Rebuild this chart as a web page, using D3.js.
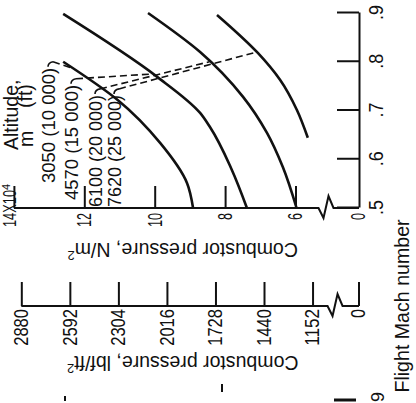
<!DOCTYPE html>
<html>
<head>
<meta charset="utf-8">
<script src="https://cdn.jsdelivr.net/npm/d3@7"></script>
<style>
  html, body { margin: 0; padding: 0; background: #fff; }
  svg { display: block; }
  text { font-family: "Liberation Sans", Arial, sans-serif; fill: #111; }
</style>
</head>
<body>
<svg id="chart" width="416" height="403"></svg>
<script>
// ---- data -------------------------------------------------------------
const machTicks = [0.5, 0.6, 0.7, 0.8, 0.9];
const pressureTicks = [6, 8, 10, 12, 14];            // N/m^2, x10^4
const lbfTicks = [1152, 1440, 1728, 2016, 2304, 2592, 2880];
const altitudeLabels = ["3050 (10 000)", "4570 (15 000)", "6100 (20 000)", "7620 (25 000)"];

// combustor pressure (x10^4 N/m^2) against flight Mach number, one pair per altitude
const mach3050 = [0.500, 0.551, 0.633, 0.722, 0.800];
const pres3050 = [8.91, 9.08, 9.84, 11.06, 12.60];
const mach4570 = [0.500, 0.580, 0.666, 0.695, 0.769, 0.898];
const pres4570 = [7.38, 7.82, 8.43, 8.71, 9.93, 12.60];
const mach6100 = [0.500, 0.584, 0.654, 0.728, 0.820, 0.900];
const pres6100 = [5.97, 6.36, 6.81, 7.49, 8.71, 10.19];
const mach7620 = [0.644, 0.701, 0.763, 0.818, 0.896];
const pres7620 = [5.65, 5.96, 6.44, 7.07, 8.23];

// Mach number where each altitude's leader line meets its curve
const leaderMach = [0.787, 0.775, 0.80, 0.82];

// ---- layout -----------------------------------------------------------
const svg = d3.select("#chart");
// the whole figure is drawn turned a quarter turn: local x runs up the page, local y runs right
const frame = svg.append("g").attr("transform", "rotate(-90)");

const mach = d3.scaleLinear().domain([0.5, 0.9]).range([-208, -13]);
const pres = d3.scaleLinear().domain([6, 14]).range([295.5, 13.9]);
const lbfPerUnit = 1e4 / 47.8803;                    // lbf/ft^2 in 1x10^4 N/m^2
const presLbf = d3.scaleLinear().domain(pres.domain().map(p => p * lbfPerUnit)).range(pres.range());
const zeroPos = 359;                                 // zero of both broken pressure scales
const lbfAxisPos = -306;

const ink = "#111";
function squeeze(sel, perChar) {
  sel.selectAll(".tick text")
    .attr("textLength", function () { return this.textContent.length * perChar; })
    .attr("lengthAdjust", "spacingAndGlyphs");
}
function styleAxis(g) {
  g.selectAll("line, path").attr("stroke", ink).attr("stroke-width", 2);
  g.selectAll("text").attr("font-size", 20).attr("fill", ink)
    .attr("font-family", "'Liberation Sans', Arial, sans-serif");
}
// broken axis line with a zigzag just before zero
function brokenAxis(parent, at, from, breakStart) {
  const p = d3.path();
  p.moveTo(at, from);
  p.lineTo(at, breakStart);
  p.lineTo(at - 10, breakStart + 5);
  p.lineTo(at + 12, breakStart + 10);
  p.lineTo(at, breakStart + 15);
  p.lineTo(at, zeroPos);
  parent.append("path").attr("d", p.toString())
    .attr("fill", "none").attr("stroke", ink).attr("stroke-width", 2).attr("stroke-linejoin", "miter");
}

// Mach number axis
const machAxis = frame.append("g")
  .attr("transform", `translate(0,${zeroPos})`)
  .call(d3.axisBottom(mach).tickValues(machTicks).tickSize(-22).tickSizeOuter(0).tickPadding(10)
    .tickFormat(d => d3.format(".1f")(d).replace("0.", ".")));
styleAxis(machAxis);
squeeze(machAxis, 7.5);

// N/m^2 axis
const presAxis = frame.append("g")
  .attr("transform", `translate(${mach(0.5)},0)`)
  .call(d3.axisLeft(pres).tickValues(pressureTicks).tickSize(-22).tickPadding(5)
    .tickFormat(d => d === 14 ? "" : d));
presAxis.select(".domain").remove();
styleAxis(presAxis);
squeeze(presAxis, 7);
brokenAxis(frame, mach(0.5), pres(14), pres(6) + 23);
frame.append("text").attr("x", mach(0.5) - 5).attr("y", zeroPos).attr("dy", "0.32em")
  .attr("text-anchor", "end").attr("font-size", 20).attr("textLength", 7)
  .attr("lengthAdjust", "spacingAndGlyphs").text("0");
const topLabel = frame.append("text").attr("x", mach(0.5) - 19).attr("y", pres(14) + 2.5)
  .attr("font-size", 19);
topLabel.append("tspan").attr("textLength", 37).attr("lengthAdjust", "spacingAndGlyphs").text("14X10");
topLabel.append("tspan").attr("dy", -6).attr("font-size", 11).text("4");

// lbf/ft^2 axis
const lbfAxis = frame.append("g")
  .attr("transform", `translate(${lbfAxisPos},0)`)
  .call(d3.axisLeft(presLbf).tickValues(lbfTicks).tickSize(-24).tickPadding(3)
    .tickFormat(d3.format("d")));
lbfAxis.select(".domain").remove();
styleAxis(lbfAxis);
squeeze(lbfAxis, 9.2);
brokenAxis(frame, lbfAxisPos, presLbf(2880), presLbf(1152) + 15);
frame.append("line").attr("x1", lbfAxisPos).attr("x2", lbfAxisPos + 24)
  .attr("y1", zeroPos).attr("y2", zeroPos).attr("stroke", ink).attr("stroke-width", 2);
frame.append("text").attr("x", lbfAxisPos - 3).attr("y", zeroPos).attr("dy", "0.32em")
  .attr("text-anchor", "end").attr("font-size", 20).attr("textLength", 9)
  .attr("lengthAdjust", "spacingAndGlyphs").text("0");

// axis titles
function pressureTitle(x, unit) {
  const t = frame.append("text")
    .attr("transform", `translate(${x},${(pres(6) + pres(14)) / 2 + 28}) rotate(-90)`)
    .attr("text-anchor", "middle").attr("font-size", 19.5);
  t.append("tspan").text("Combustor pressure, " + unit);
  t.append("tspan").attr("dy", -8).attr("font-size", 13).text("2");
}
pressureTitle(-243, "N/m");
pressureTitle(-356, "lbf/ft");

frame.append("text").attr("x", -306).attr("y", 409).attr("text-anchor", "middle")
  .attr("font-size", 19.6).text("Flight Mach number");

// curves
const curveLine = d3.line().x(d => mach(d[0])).y(d => pres(d[1])).curve(d3.curveMonotoneX);
const series = [
  d3.zip(mach3050, pres3050),
  d3.zip(mach4570, pres4570),
  d3.zip(mach6100, pres6100),
  d3.zip(mach7620, pres7620)
];
frame.selectAll("path.curve").data(series).join("path")
  .attr("class", "curve").attr("d", curveLine)
  .attr("fill", "none").attr("stroke", ink).attr("stroke-width", 2.6);

// legend
frame.append("text").attr("x", -150).attr("y", 17.5).attr("font-size", 19.5).text("Altitude,");
frame.append("text").attr("x", -147).attr("y", 33).attr("font-size", 19.5).text("m");
frame.append("text").attr("x", -108).attr("y", 32).attr("font-size", 19.5).text("(ft)");

const labelStart = [-183, -200, -207, -207];
const labelBase = [55, 78, 102, 121];
const labelSize = [18.5, 18.5, 18, 18];
const labels = frame.selectAll("text.alt").data(altitudeLabels).join("text")
  .attr("class", "alt")
  .attr("x", (d, i) => labelStart[i]).attr("y", (d, i) => labelBase[i])
  .attr("font-size", (d, i) => labelSize[i]).text(d => d);

function valueAt(ms, ps, m) {
  return d3.scaleLinear().domain(ms).range(ps)(m);
}
const machSets = [mach3050, mach4570, mach6100, mach7620];
const presSets = [pres3050, pres4570, pres6100, pres7620];
labels.each(function (d, i) {
  const box = this.getBBox();
  const ax = box.x + box.width + 1, ay = labelBase[i] - 7;
  const tx = mach(leaderMach[i]), ty = pres(valueAt(machSets[i], presSets[i], leaderMach[i]));
  // small hook at the end of the label, turning toward its curve
  frame.append("path")
    .attr("d", `M${ax},${ay}q4,0 5,5`)
    .attr("fill", "none").attr("stroke", ink).attr("stroke-width", 1.6);
  frame.append("line")
    .attr("x1", ax + 5).attr("y1", ay + 5).attr("x2", tx).attr("y2", ty)
    .attr("stroke", ink).attr("stroke-width", 1.6).attr("stroke-dasharray", "7,4");
});

// fragments of the caption at the foot of the sheet
svg.append("text").attr("transform", "translate(384,402) rotate(-90)")
  .attr("font-size", 18).text("9");
svg.append("line").attr("x1", 334).attr("x2", 356).attr("y1", 400).attr("y2", 400)
  .attr("stroke", ink).attr("stroke-width", 3);
svg.append("line").attr("x1", 222).attr("x2", 222).attr("y1", 384).attr("y2", 392)
  .attr("stroke", ink).attr("stroke-width", 2);
svg.append("line").attr("x1", 65).attr("x2", 65).attr("y1", 396).attr("y2", 401)
  .attr("stroke", ink).attr("stroke-width", 2);
</script>
</body>
</html>
